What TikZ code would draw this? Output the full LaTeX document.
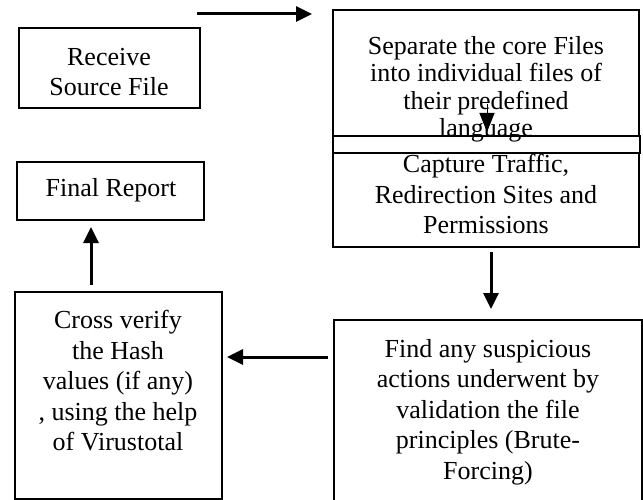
\documentclass[tikz,border=0pt]{standalone}
\usepackage{fontspec}
\setmainfont{Liberation Serif}
\usetikzlibrary{arrows.meta}
\begin{document}
\begin{tikzpicture}[x=1pt,y=-1pt,
  box/.style={draw, line width=2pt, inner sep=0pt, outer sep=0pt},
  txt/.style={align=center, inner sep=0pt, font=\fontsize{26}{30.5}\selectfont},
  tighttxt/.style={align=center, inner sep=0pt, font=\fontsize{26}{27.5}\selectfont},
  arr/.style={line width=3pt, -{Triangle[length=16pt,width=15pt]}},
  thinarr/.style={line width=1pt, -{Triangle[length=19pt,width=15pt]}}]
\path[use as bounding box] (0,0) rectangle (643,500);
% boxes
\node[box, minimum width=181pt, minimum height=80pt] (recv) at (109.5,68) {};
\node[box, minimum width=187pt, minimum height=58pt] (final) at (110.5,191) {};
\node[box, minimum width=306pt, minimum height=126pt] (sep) at (486,73) {};
\node[box, minimum width=307pt, minimum height=17pt] (band) at (486.5,144.5) {};
\node[box, minimum width=306pt, minimum height=94pt] (cap) at (486,200) {};
\node[box, minimum width=207pt, minimum height=207pt] (cross) at (118.5,395.5) {};
\node[box, minimum width=308pt, minimum height=183pt] (find) at (488,411.5) {};
% texts
\node[txt] (recvt) at (109,72) {Receive\\Source File};
\node[txt] (finalt) at (111,190) {Final Report};
\node[tighttxt] (sept) at (486,89.5) {Separate the core Files\\into individual files of\\their predefined\\language};
\node[txt] (capt) at (486,194) {Capture Traffic,\\Redirection Sites and\\Permissions};
\node[txt] (crosst) at (118,381) {Cross verify\\the Hash\\values (if any)\\, using the help\\of Virustotal};
\node[txt] (findt) at (488,412) {Find any suspicious\\actions underwent by\\validation the file\\principles (Brute-\\Forcing)};
% arrow end points
\coordinate (a1s) at (197,14);  \coordinate (a1e) at (312,14);
\coordinate (a2s) at (487,104); \coordinate (a2e) at (487,132);
\coordinate (a3s) at (491,252); \coordinate (a3e) at (491,309);
\coordinate (a4s) at (328,357); \coordinate (a4e) at (227,357);
\coordinate (a5s) at (91,285);  \coordinate (a5e) at (91,227);
\draw[arr] (a1s) -- (a1e);
\draw[thinarr] (a2s) -- (a2e);
\draw[arr] (a3s) -- (a3e);
\draw[arr] (a4s) -- (a4e);
\draw[arr] (a5s) -- (a5e);
\end{tikzpicture}
\end{document}
